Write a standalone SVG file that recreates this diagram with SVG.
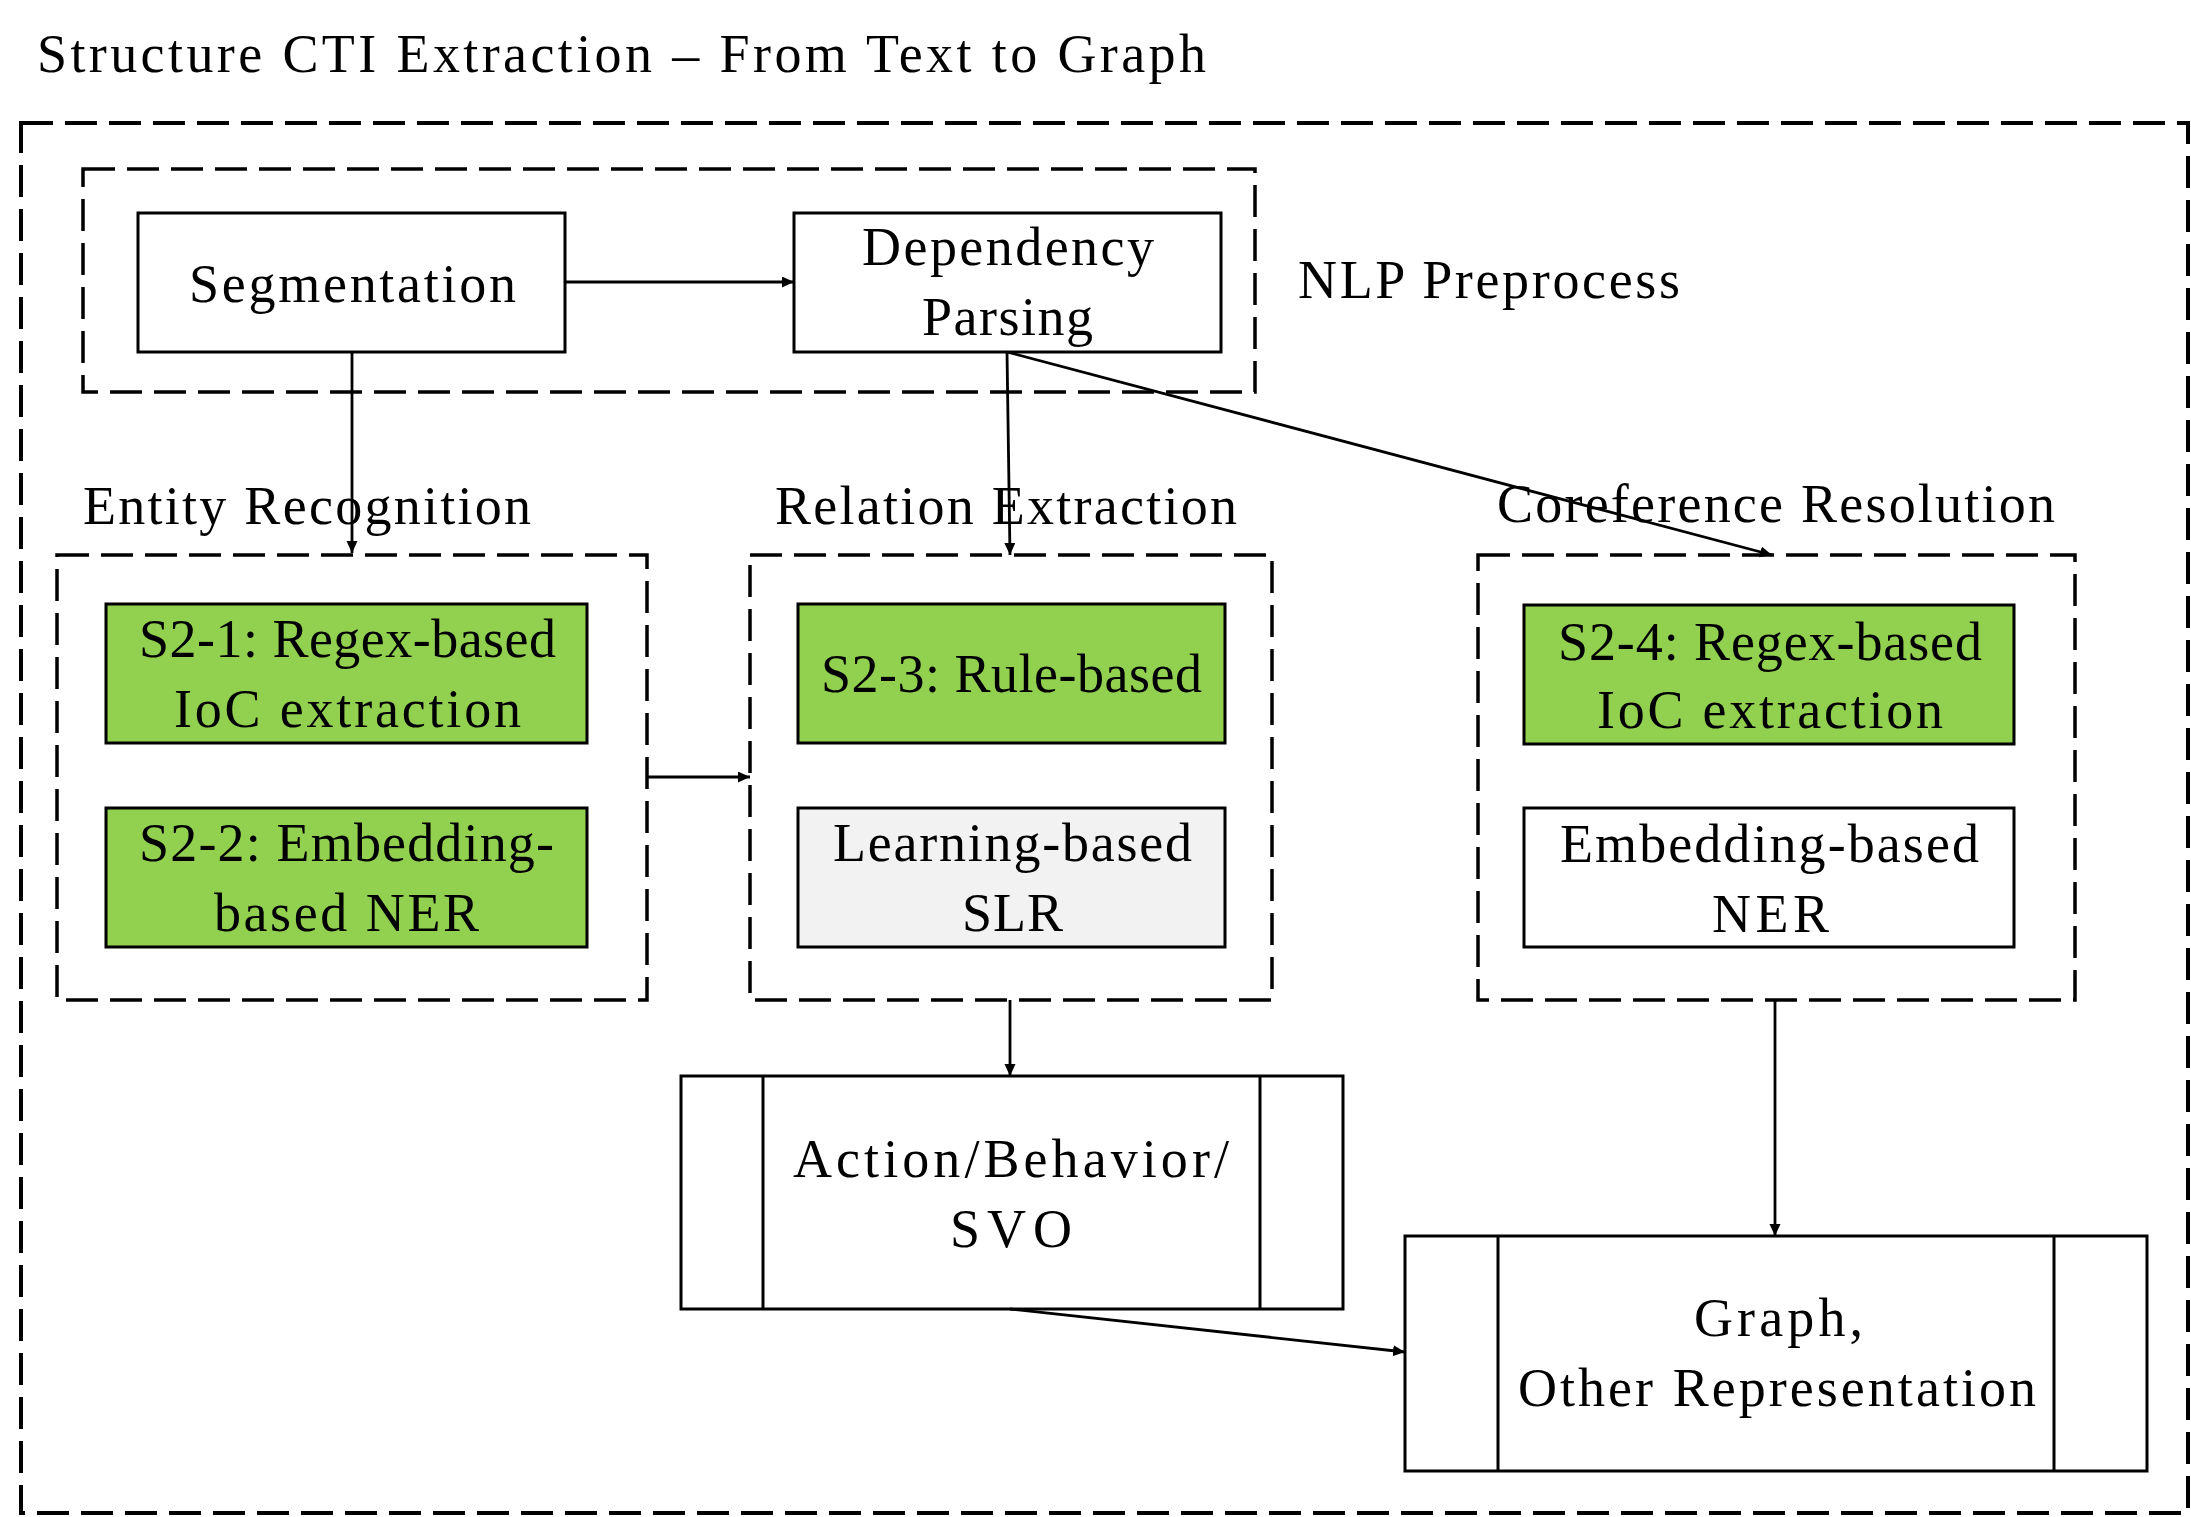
<svg xmlns="http://www.w3.org/2000/svg" width="2191" height="1517" viewBox="0 0 2191 1517">
<style>
text{font-family:"Liberation Serif","Times New Roman",serif;font-size:54px;fill:#000}
.grp{fill:none;stroke:#000;stroke-width:4;stroke-dasharray:32 12}
.grp2{fill:none;stroke:#000;stroke-width:3.5;stroke-dasharray:32 12}
.box{stroke:#000;stroke-width:3}
.white{fill:#fff}
.green{fill:#92D050}
.grey{fill:#F2F2F2}
.conn{fill:none;stroke:#000;stroke-width:2.8}
</style>
<defs>
<marker id="ah" markerUnits="userSpaceOnUse" markerWidth="14" markerHeight="12" refX="12" refY="5.5" orient="auto" viewBox="0 0 14 12">
<path d="M0,0 L12,5.5 L0,11 z" fill="#000"/>
</marker>
</defs>
<rect width="2191" height="1517" fill="#fff"/>
<text id="title" x="37" y="72" textLength="1169">Structure CTI Extraction – From Text to Graph</text>

<rect id="outer" class="grp" x="21" y="123" width="2167" height="1390"/>

<g id="nlp-preprocess">
<rect class="grp2" x="83" y="169" width="1172" height="223"/>
<text x="1298" y="298" textLength="382">NLP Preprocess</text>
</g>
<g id="segmentation">
<rect class="box white" x="138" y="213" width="427" height="139"/>
<text x="189" y="302" textLength="327">Segmentation</text>
</g>
<g id="dependency-parsing">
<rect class="box white" x="794" y="213" width="427" height="139"/>
<text x="862" y="265" textLength="292">Dependency</text>
<text x="922" y="335" textLength="171">Parsing</text>
</g>

<g id="entity-recognition">
<text x="83" y="524" textLength="448">Entity Recognition</text>
<rect class="grp2" x="57" y="555" width="590" height="445"/>
</g>
<g id="s2-1">
<rect class="box green" x="106" y="604" width="481" height="139"/>
<text x="139" y="657" textLength="417">S2-1: Regex-based</text>
<text x="174" y="727" textLength="347">IoC extraction</text>
</g>
<g id="s2-2">
<rect class="box green" x="106" y="808" width="481" height="139"/>
<text x="139" y="861" textLength="415">S2-2: Embedding-</text>
<text x="214" y="931" textLength="265">based NER</text>
</g>

<g id="relation-extraction">
<text x="775" y="524" textLength="462">Relation Extraction</text>
<rect class="grp2" x="750" y="555" width="522" height="445"/>
</g>
<g id="s2-3">
<rect class="box green" x="798" y="604" width="427" height="139"/>
<text x="821" y="692" textLength="381">S2-3: Rule-based</text>
</g>
<g id="learning-slr">
<rect class="box grey" x="798" y="808" width="427" height="139"/>
<text x="833" y="861" textLength="359">Learning-based</text>
<text x="962" y="931" textLength="101">SLR</text>
</g>

<g id="coreference-resolution">
<text x="1497" y="522" textLength="558">Coreference Resolution</text>
<rect class="grp2" x="1478" y="555" width="597" height="445"/>
</g>
<g id="s2-4">
<rect class="box green" x="1524" y="605" width="490" height="139"/>
<text x="1558" y="660" textLength="424">S2-4: Regex-based</text>
<text x="1597" y="728" textLength="346">IoC extraction</text>
</g>
<g id="embedding-ner">
<rect class="box white" x="1524" y="808" width="490" height="139"/>
<text x="1560" y="862" textLength="419">Embedding-based</text>
<text x="1712" y="932" textLength="117">NER</text>
</g>

<g id="action-behavior">
<rect class="box white" x="681" y="1076" width="662" height="233"/>
<line class="box" x1="763" y1="1076" x2="763" y2="1309"/>
<line class="box" x1="1260" y1="1076" x2="1260" y2="1309"/>
<text x="793" y="1177" textLength="436">Action/Behavior/</text>
<text x="950" y="1247" textLength="122">SVO</text>
</g>
<g id="graph">
<rect class="box white" x="1405" y="1236" width="742" height="235"/>
<line class="box" x1="1498" y1="1236" x2="1498" y2="1471"/>
<line class="box" x1="2054" y1="1236" x2="2054" y2="1471"/>
<text x="1694" y="1336" textLength="169">Graph,</text>
<text x="1518" y="1406" textLength="518">Other Representation</text>
</g>

<g id="connectors">
<path class="conn" d="M565,282 L794,282" marker-end="url(#ah)"/>
<path class="conn" d="M352,352 L352,553" marker-end="url(#ah)"/>
<path class="conn" d="M1007,352 L1010,555" marker-end="url(#ah)"/>
<path class="conn" d="M1007,352 L1772,555" marker-end="url(#ah)"/>
<path class="conn" d="M647,777 L750,777" marker-end="url(#ah)"/>
<path class="conn" d="M1010,1000 L1010,1076" marker-end="url(#ah)"/>
<path class="conn" d="M1775,1000 L1775,1236" marker-end="url(#ah)"/>
<path class="conn" d="M1010,1309 L1405,1352" marker-end="url(#ah)"/>
</g>
</svg>
